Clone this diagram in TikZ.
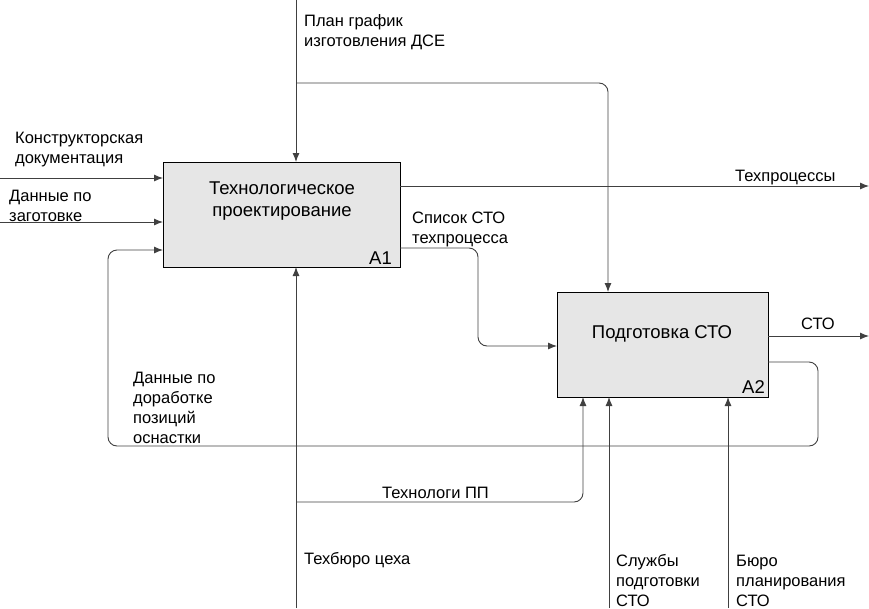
\documentclass[tikz,border=0pt]{standalone}
\usepackage{fontspec}
\setmainfont{Liberation Sans}
\usetikzlibrary{arrows.meta}
\definecolor{boxfill}{HTML}{E6E6E6}
\definecolor{linec}{HTML}{404040}
\begin{document}
\begin{tikzpicture}[x=1pt,y=-1pt,
  box/.style={draw=black, line width=0.9pt, fill=boxfill, inner sep=0pt, outer sep=0pt, align=center},
  arr/.style={draw=linec, line width=0.9pt, -{Latex[length=9pt,width=7pt]}, rounded corners=9pt},
  lbl/.style={inner sep=0pt, align=left, anchor=base west, font=\fontsize{16.5}{20}\selectfont},
  big/.style={font=\fontsize{18.5}{22}\selectfont}]
\useasboundingbox (0,0) rectangle (869,608);
% boxes
\node[box, minimum width=237pt, minimum height=105pt] (a1) at (281.5,214.5) {};
\node[big, align=center] (a1t) at (282,201) {Технологическое\\проектирование};
\node[big, anchor=base east, inner sep=0pt] (a1n) at (392,264) {A1};
\node[box, minimum width=211pt, minimum height=105pt] (a2) at (662.5,344.5) {};
\node[big] (a2t) at (662,334) {Подготовка СТО};
\node[big, anchor=base east, inner sep=0pt] (a2n) at (765,393) {A2};
% coordinates
\coordinate (ctop) at (296,0);
\coordinate (cbr) at (296,83);
\coordinate (cbrx) at (608,83);
\coordinate (in1) at (0,178);
\coordinate (in2) at (0,222);
\coordinate (fbA) at (768,362);
\coordinate (fb1) at (818,362);
\coordinate (fb2) at (818,446);
\coordinate (fb3) at (108,446);
\coordinate (fb4) at (108,250);
\coordinate (o1) at (869,186);
\coordinate (o1s) at (400,186);
\coordinate (sp1) at (400,248);
\coordinate (sp2) at (478,248);
\coordinate (sp3) at (478,346);
\coordinate (o2s) at (768,336);
\coordinate (o2) at (869,336);
\coordinate (cbot) at (296,608);
\coordinate (tp1) at (296,502);
\coordinate (tp2) at (583,502);
\coordinate (m2) at (609,608);
\coordinate (m3) at (728,608);
% connectors
\draw[arr] (ctop) -- (ctop |- a1.north);
\draw[arr] (cbr) -- (cbrx) -- (cbrx |- a2.north);
\draw[arr] (in1) -- (in1 -| a1.west);
\draw[arr] (in2) -- (in2 -| a1.west);
\draw[arr] (fbA) -- (fb1) -- (fb2) -- (fb3) -- (fb4) -- (fb4 -| a1.west);
\draw[arr] (o1s) -- (o1);
\draw[arr] (sp1) -- (sp2) -- (sp3) -- (sp3 -| a2.west);
\draw[arr] (o2s) -- (o2);
\draw[arr] (cbot) -- (cbot |- a1.south);
\draw[arr] (tp1) -- (tp2) -- (tp2 |- a2.south);
\draw[arr] (m2) -- (m2 |- a2.south);
\draw[arr] (m3) -- (m3 |- a2.south);
% labels (base = baseline of last line)
\node[lbl] (l1) at (304,46) {План график\\изготовления ДСЕ};
\node[lbl] (l2) at (15,163) {Конструкторская\\документация};
\node[lbl] (l3) at (9,221) {Данные по\\заготовке};
\node[lbl] (l4) at (735,181) {Техпроцессы};
\node[lbl] (l5) at (412,243) {Список СТО\\техпроцесса};
\node[lbl] (l6) at (801,329) {СТО};
\node[lbl] (l7) at (133,443) {Данные по\\доработке\\позиций\\оснастки};
\node[lbl] (l8) at (382,498) {Технологи ПП};
\node[lbl] (l9) at (304,564) {Техбюро цеха};
\node[lbl] (l10) at (616,606) {Службы\\подготовки\\СТО};
\node[lbl] (l11) at (736,606) {Бюро\\планирования\\СТО};
\end{tikzpicture}
\end{document}
